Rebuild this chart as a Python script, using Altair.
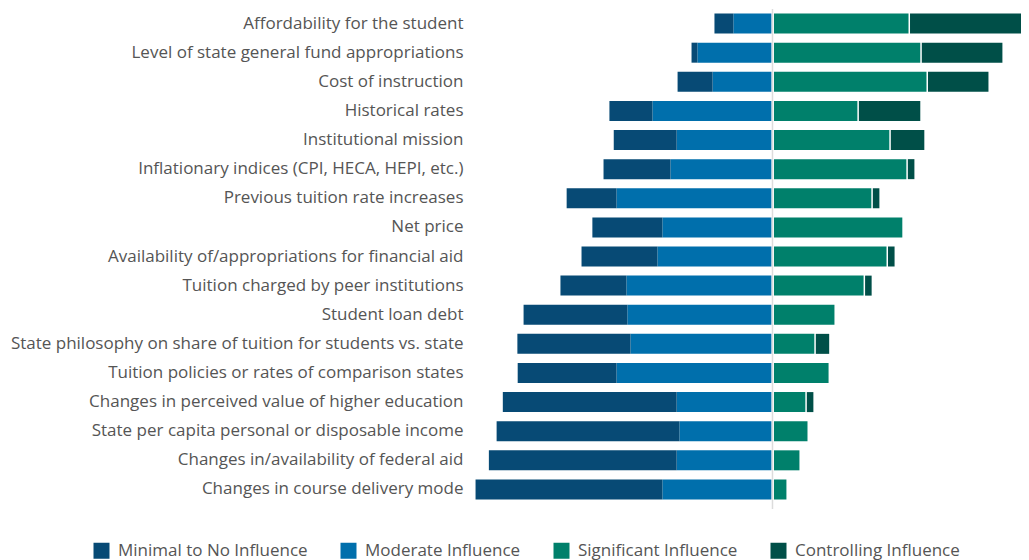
import altair as alt
import pandas as pd

categories = [
    "Affordability for the student",
    "Level of state general fund appropriations",
    "Cost of instruction",
    "Historical rates",
    "Institutional mission",
    "Inflationary indices (CPI, HECA, HEPI, etc.)",
    "Previous tuition rate increases",
    "Net price",
    "Availability of/appropriations for financial aid",
    "Tuition charged by peer institutions",
    "Student loan debt",
    "State philosophy on share of tuition for students vs. state",
    "Tuition policies or rates of comparison states",
    "Changes in perceived value of higher education",
    "State per capita personal or disposable income",
    "Changes in/availability of federal aid",
    "Changes in course delivery mode",
]
series = ["Minimal to No Influence", "Moderate Influence",
          "Significant Influence", "Controlling Influence"]
colors = ["#074a75", "#006fac", "#00806b", "#004f48"]

minimal = [6.1, 1.9, 11.3, 13.9, 20.3, 21.6, 16.1, 22.6, 24.5, 21.3, 33.5, 36.5, 31.9, 56.1, 59.0, 60.6, 60.3]
moderate = [12.3, 23.9, 19.0, 38.4, 30.6, 32.6, 50.0, 35.2, 36.8, 46.8, 46.5, 45.5, 50.0, 30.6, 29.7, 30.6, 35.2]
significant = [43.9, 47.7, 49.7, 27.4, 37.7, 43.2, 31.9, 41.9, 36.8, 29.4, 20.0, 13.5, 18.1, 10.6, 11.3, 8.7, 4.5]
controlling = [37.7, 26.5, 20.0, 20.3, 11.3, 2.6, 2.6, 0.0, 2.6, 2.6, 0.0, 4.8, 0.0, 2.6, 0.0, 0.0, 0.0]

rows = []
for i, c in enumerate(categories):
    rows.append(dict(cat=c, series=series[1], start=-moderate[i], end=0.0, side="neg"))
    rows.append(dict(cat=c, series=series[0], start=-moderate[i] - minimal[i], end=-moderate[i], side="neg"))
    rows.append(dict(cat=c, series=series[2], start=0.0, end=significant[i], side="pos"))
    rows.append(dict(cat=c, series=series[3], start=significant[i], end=significant[i] + controlling[i], side="pos"))
df = pd.DataFrame(rows)
df = df[df["end"] - df["start"] > 0]

FONT = "Open Sans"
TXT = "#555555"

xs = alt.Scale(domain=[-96, 80.2], nice=False, zero=False, clamp=True)
ys = alt.Scale(domain=categories, paddingInner=0.313, paddingOuter=0.1565)
cs = alt.Scale(domain=series, range=colors)

base = alt.Chart(df)

enc = dict(
    y=alt.Y("cat:N", scale=ys, sort=categories,
            axis=alt.Axis(title=None, ticks=False, domain=False, grid=False,
                          labelPadding=12, labelFontSize=17, labelFont=FONT,
                          labelColor=TXT, labelLimit=520,
                          minExtent=467, maxExtent=467)),
    x=alt.X("start:Q", scale=xs, axis=None),
    x2="end:Q",
    color=alt.Color("series:N", scale=cs, sort=series,
                    legend=alt.Legend(title=None, orient="none", direction="horizontal",
                                      legendX=-382, legendY=533,
                                      symbolType="square", symbolSize=256,
                                      symbolStrokeWidth=0, symbolOpacity=1,
                                      labelFontSize=17, labelFont=FONT, labelColor=TXT,
                                      labelOffset=8, columnPadding=32, padding=0,
                                      labelLimit=400)),
)

neg = base.transform_filter(alt.datum.side == "neg").mark_bar(
    xOffset=-1, x2Offset=-1, opacity=1).encode(**enc)
pos = base.transform_filter(alt.datum.side == "pos").mark_bar(
    xOffset=1.5, x2Offset=0, opacity=1).encode(**enc)

rule = alt.Chart(pd.DataFrame({"z": [0]})).mark_rule(
    color="#dcdcdc", strokeWidth=1.5).encode(
    x=alt.X("z:Q", scale=xs), y=alt.value(0), y2=alt.value(500))

chart = alt.layer(neg, pos, rule).properties(
    width=546, height=495,
    padding={"left": 0, "top": 0, "right": 0, "bottom": 3}
).configure(background="white").configure_view(stroke=None, strokeWidth=0)

chart.save("out.html", embed_options={"renderer": "svg", "actions": False})
